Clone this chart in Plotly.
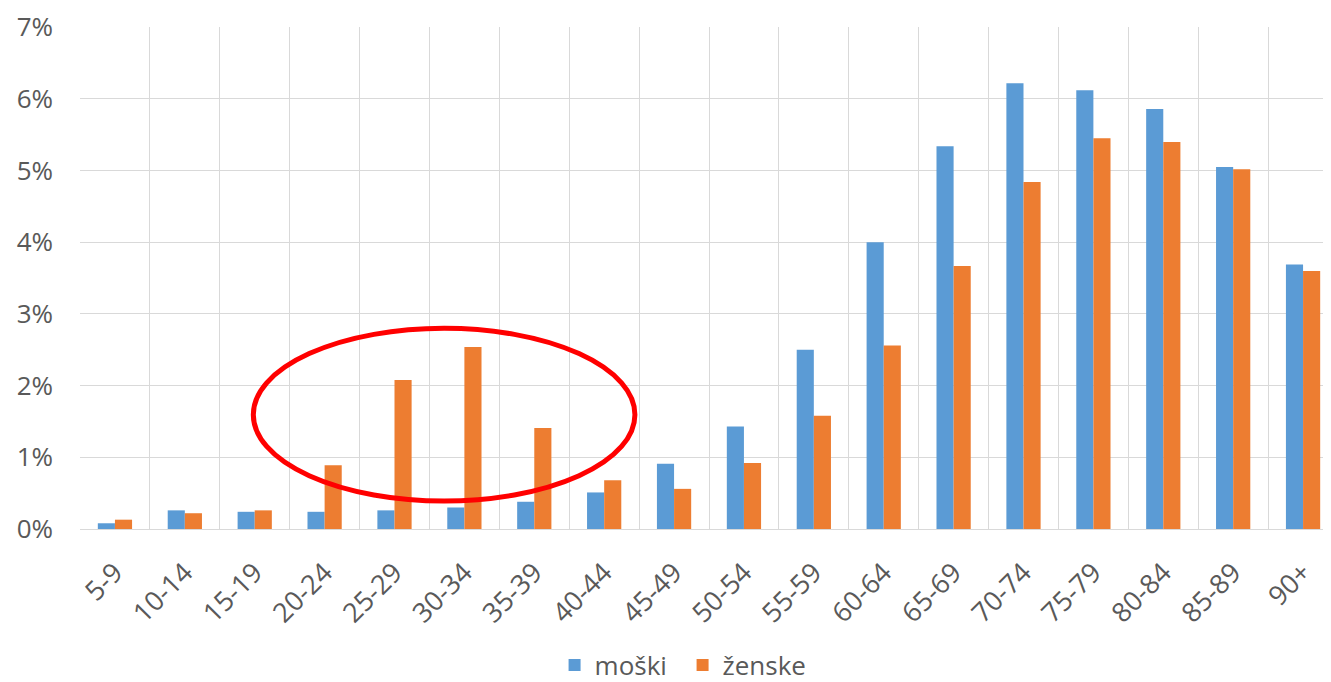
import plotly.graph_objects as go

categories = ["5-9", "10-14", "15-19", "20-24", "25-29", "30-34", "35-39", "40-44", "45-49",
              "50-54", "55-59", "60-64", "65-69", "70-74", "75-79", "80-84", "85-89", "90+"]
moski = [0.08, 0.26, 0.24, 0.24, 0.26, 0.30, 0.38, 0.51, 0.91,
         1.43, 2.50, 4.00, 5.34, 6.22, 6.12, 5.86, 5.05, 3.69]
zenske = [0.13, 0.22, 0.26, 0.89, 2.08, 2.54, 1.41, 0.68, 0.56,
          0.92, 1.58, 2.56, 3.67, 4.84, 5.45, 5.40, 5.02, 3.60]
series_names = ["moški", "ženske"]
y_ticks = [0, 1, 2, 3, 4, 5, 6, 7]
y_tick_text = ["0%", "1%", "2%", "3%", "4%", "5%", "6%", "7%"]

FONT = "Open Sans"
GRAY = "#595959"
GRID = "#d9d9d9"

fig = go.Figure()
fig.add_trace(go.Bar(x=categories, y=moski, name=series_names[0],
                     marker=dict(color="#5b9bd5", line=dict(width=0))))
fig.add_trace(go.Bar(x=categories, y=zenske, name=series_names[1],
                     marker=dict(color="#ed7d31", line=dict(width=0))))

fig.add_shape(type="circle", xref="x", yref="y",
              x0=1.98, x1=7.44, y0=0.39, y1=2.80,
              line=dict(color="#ff0000", width=5), layer="above")

fig.update_layout(
    width=1331, height=682,
    margin=dict(l=72, r=1, t=19, b=158),
    paper_bgcolor="white", plot_bgcolor="white",
    barmode="group", bargap=0.51, bargroupgap=0,
    font=dict(family=FONT, color=GRAY),
    legend=dict(orientation="h", x=0.479, xanchor="center", y=-0.271, yanchor="middle",
                font=dict(size=26, color=GRAY, family=FONT), itemwidth=30,
                entrywidth=83, entrywidthmode="pixels",
                traceorder="normal"),
    xaxis=dict(type="category", tickangle=-45, tickson="boundaries",
               range=[-0.5, 17.5],
               showgrid=True, gridcolor=GRID, gridwidth=1,
               showline=True, linecolor=GRID, linewidth=1,
               ticks="", automargin=False, ticklabelstandoff=16,
               tickfont=dict(size=27, color=GRAY, family=FONT)),
    yaxis=dict(range=[0, 7.003], tickmode="array", tickvals=y_ticks, ticktext=y_tick_text,
               showgrid=True, gridcolor=GRID, gridwidth=1,
               zeroline=False, showline=False, ticks="",
               ticklabelstandoff=26, automargin=False, ticklabeloverflow="allow",
               tickfont=dict(size=26, color=GRAY, family=FONT)),
)

fig.write_html("out.html")
